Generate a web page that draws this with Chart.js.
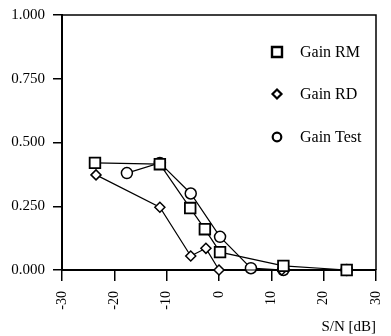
<!DOCTYPE html>
<html>
<head>
<meta charset="utf-8">
<script src="https://cdn.jsdelivr.net/npm/chart.js@4/dist/chart.umd.min.js"></script>
<style>
    html, body { margin: 0; padding: 0; background: #fff; }
    #wrap { width: 391px; height: 336px; }
</style>
</head>
<body>
<div id="wrap"><canvas id="chart" width="391" height="336"></canvas></div>
<script>
const seriesNames = ["Gain RM", "Gain RD", "Gain Test"];

const snrRM = [-23.7, -11.3, -5.5, -2.7, 0.2, 12.3, 24.4];
const gainRM = [0.42, 0.415, 0.243, 0.16, 0.07, 0.016, 0.0];

const snrRD = [-23.5, -11.3, -5.4, -2.5, 0.0, 12.0, 24.2];
const gainRD = [0.373, 0.246, 0.055, 0.085, 0.0, 0.0, 0.0];

const snrTest = [-17.6, -11.3, -5.4, 0.2, 6.1, 12.3, 24.4];
const gainTest = [0.38, 0.42, 0.30, 0.13, 0.007, 0.0, 0.0];

const xTicks = [-30, -20, -10, 0, 10, 20, 30];
const yTicks = [0, 0.25, 0.5, 0.75, 1.0];

const FONT = "'Liberation Serif', 'Times New Roman', serif";

function points(xs, ys) {
    return xs.map((x, i) => ({ x: x, y: ys[i] }));
}

function series(label, data, style, radius, markerWidth) {
    return {
        label: label,
        data: data,
        showLine: true,
        borderColor: "#000",
        borderWidth: 1.2,
        backgroundColor: "#fff",
        pointStyle: style,
        pointRadius: radius,
        pointBorderWidth: markerWidth,
        pointBorderColor: "#000",
        pointBackgroundColor: "#fff",
        tension: 0,
        clip: false,
    };
}

// top and right edges of the frame
const frame = {
    id: "frame",
    afterDraw(chart) {
        const { ctx, chartArea: a } = chart;
        ctx.save();
        ctx.strokeStyle = "#000";
        ctx.lineWidth = 1.5;
        ctx.beginPath();
        ctx.moveTo(a.left, a.top);
        ctx.lineTo(a.right, a.top);
        ctx.lineTo(a.right, a.bottom);
        ctx.stroke();
        ctx.restore();
    },
};

// legend inside the plot, one row per series
const insideLegend = {
    id: "insideLegend",
    afterDraw(chart) {
        const ctx = chart.ctx;
        const mx = 277, tx = 300, rows = [52, 94, 137];
        ctx.save();
        ctx.strokeStyle = "#000";
        ctx.fillStyle = "#fff";
        chart.data.datasets.forEach((ds, i) => {
            const y = rows[i];
            ctx.beginPath();
            if (ds.pointStyle === "rect") {
                ctx.lineWidth = 2.4;
                ctx.rect(mx - 5, y - 5, 10, 10);
            } else if (ds.pointStyle === "rectRot") {
                ctx.lineWidth = 2.2;
                ctx.moveTo(mx, y - 4.5);
                ctx.lineTo(mx + 4.5, y);
                ctx.lineTo(mx, y + 4.5);
                ctx.lineTo(mx - 4.5, y);
                ctx.closePath();
            } else {
                ctx.lineWidth = 2.2;
                ctx.arc(mx, y, 4.3, 0, Math.PI * 2);
            }
            ctx.fill();
            ctx.stroke();
            ctx.fillStyle = "#000";
            ctx.font = "16px " + FONT;
            ctx.textBaseline = "middle";
            ctx.textAlign = "left";
            ctx.fillText(ds.label, tx, y + 1);
            ctx.fillStyle = "#fff";
        });
        ctx.restore();
    },
};

new Chart(document.getElementById("chart"), {
    type: "scatter",
    data: {
        datasets: [
            series(seriesNames[0], points(snrRM, gainRM), "rect", 7.5, 1.8),
            series(seriesNames[1], points(snrRD, gainRD), "rectRot", 5, 1.5),
            series(seriesNames[2], points(snrTest, gainTest), "circle", 5.5, 1.5),
        ],
    },
    options: {
        responsive: false,
        animation: false,
        layout: { padding: { left: 0, top: 15, right: 15, bottom: 0 } },
        plugins: {
            legend: { display: false },
            tooltip: { enabled: false },
        },
        scales: {
            x: {
                type: "linear",
                min: xTicks[0],
                max: xTicks[xTicks.length - 1],
                afterBuildTicks: (s) => { s.ticks = xTicks.map((v) => ({ value: v })); },
                afterFit: (s) => {
                    s.height = 66;
                    s.paddingLeft = 0;
                    s.paddingRight = 0;
                },
                border: { display: true, color: "#000", width: 2 },
                grid: { display: true, drawOnChartArea: false, drawTicks: true, tickLength: 11, color: "#000", lineWidth: 1.5 },
                ticks: {
                    color: "#000",
                    font: { family: FONT, size: 14 },
                    minRotation: 90,
                    maxRotation: 90,
                    autoSkip: false,
                    padding: 10,
                },
                title: {
                    display: true,
                    text: "S/N [dB]",
                    align: "end",
                    color: "#000",
                    font: { family: FONT, size: 15 },
                    padding: 0,
                },
            },
            y: {
                type: "linear",
                min: yTicks[0],
                max: yTicks[yTicks.length - 1],
                afterBuildTicks: (s) => { s.ticks = yTicks.map((v) => ({ value: v })); },
                afterFit: (s) => {
                    s.width = 62;
                    s.paddingTop = 0;
                    s.paddingBottom = 0;
                },
                border: { display: true, color: "#000", width: 2 },
                grid: { display: true, drawOnChartArea: false, drawTicks: true, tickLength: 9, color: "#000", lineWidth: 1.5 },
                ticks: {
                    color: "#000",
                    font: { family: FONT, size: 15 },
                    padding: 8,
                    callback: (v) => v.toFixed(3),
                },
            },
        },
    },
    plugins: [frame, insideLegend],
});
</script>
</body>
</html>
